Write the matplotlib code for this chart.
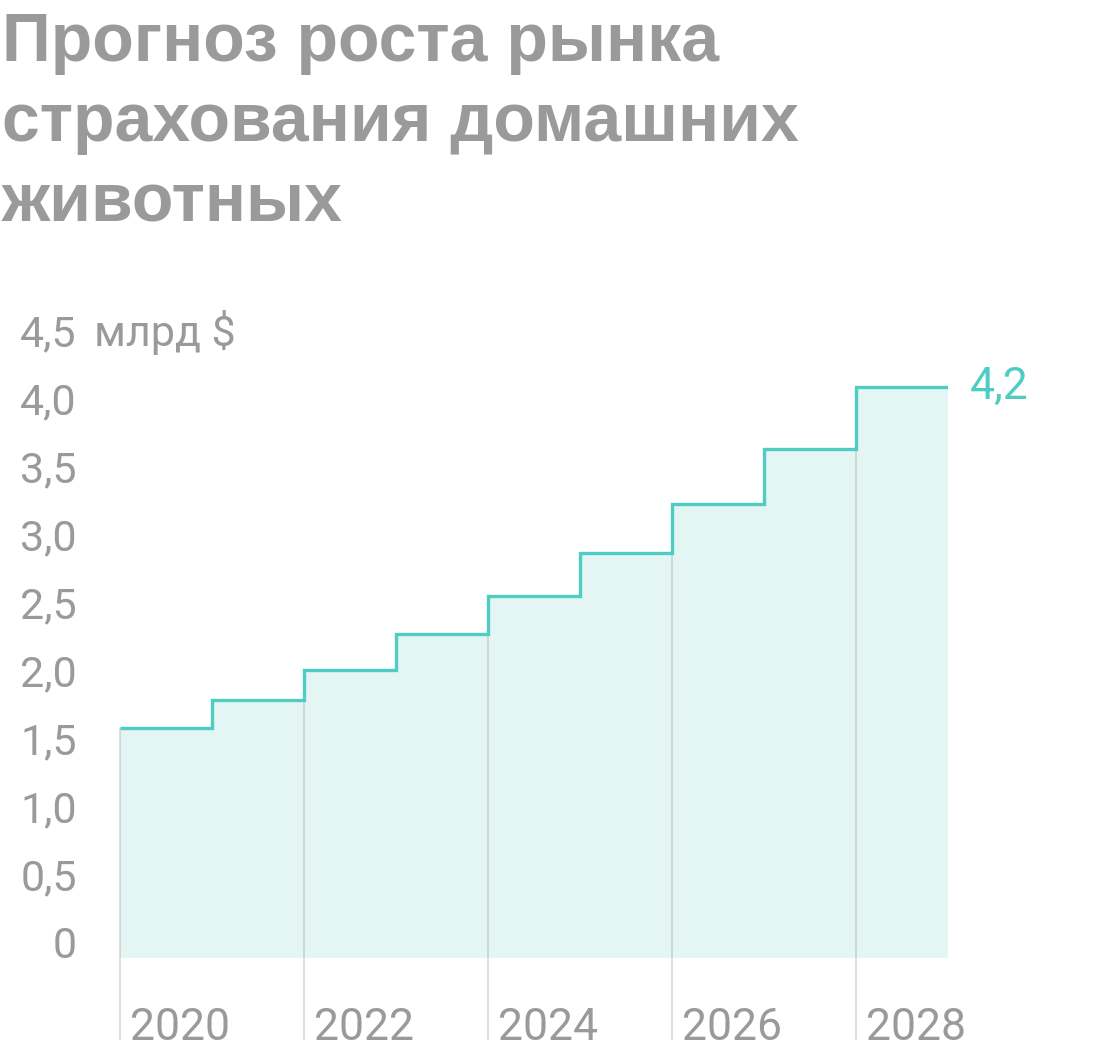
import matplotlib.pyplot as plt
import matplotlib.transforms as mtransforms

plt.rcParams['font.family'] = ['Roboto', 'DejaVu Sans']

# data
years = [2020, 2021, 2022, 2023, 2024, 2025, 2026, 2027, 2028]
valuesBn = [1.69, 1.90, 2.12, 2.38, 2.66, 2.98, 3.34, 3.74, 4.2]
yTicks = [0, 0.5, 1.0, 1.5, 2.0, 2.5, 3.0, 3.5, 4.0, 4.5]
yTickLabels = ["0", "0,5", "1,0", "1,5", "2,0", "2,5", "3,0", "3,5", "4,0", "4,5"]
xTickYears = [2020, 2022, 2024, 2026, 2028]
titleLines = ["Прогноз роста рынка", "страхования домашних", "животных"]
unitLabel = "млрд $"
lastLabel = "4,2"

grey = "#9a9a9a"
teal = "#4fcdc4"
fillColor = "#e3f6f4"

W, H = 1120, 1056
fig = plt.figure(figsize=(W / 100, H / 100), dpi=100)
# axes: 2020 -> px 120, 2029 -> px 948 ; y=0 -> px 958, y=4.5 -> px 346
ax = fig.add_axes([120 / W, (H - 958) / H, 828 / W, 612 / H])
ax.set_xlim(2020, 2029)
ax.set_ylim(0, 4.5)
for s in ax.spines.values():
    s.set_visible(False)

edges = years + [years[-1] + 1]

ax.stairs(valuesBn, edges, fill=True, color=fillColor, baseline=0, lw=0, zorder=1)

# vertical year lines, from below axis up to the lower step
pxPerUnit = 612 / 4.5
lineBottom = -82 / pxPerUnit
tops = []
for yr in xTickYears:
    i = years.index(yr)
    tops.append(valuesBn[i - 1] if i > 0 else valuesBn[0])
ax.vlines(xTickYears, lineBottom, tops, color="#bdbdbd", alpha=0.6, lw=1.2,
          clip_on=False, zorder=2)

step = ax.stairs(valuesBn, edges, baseline=None, color=teal, lw=2.4, zorder=3)
step.set_joinstyle("miter")
step.set_capstyle("butt")

# y ticks
ax.set_xticks([])
ax.set_yticks(yTicks)
ax.set_yticklabels(yTickLabels)
ax.tick_params(axis="y", length=0, pad=31, labelsize=31, labelcolor=grey)
for lab in ax.get_yticklabels():
    lab.set_va("baseline")

unitTrans = mtransforms.offset_copy(ax.transData, fig=fig, x=-26, y=0, units="dots")
ax.text(2020, yTicks[-1], unitLabel, transform=unitTrans, fontsize=31,
        color=grey, ha="left", va="baseline")

# x labels
yearTrans = mtransforms.offset_copy(ax.transData, fig=fig, x=10, y=-82, units="dots")
for yr in xTickYears:
    ax.text(yr, 0, str(yr), transform=yearTrans, fontsize=32, color=grey,
            ha="left", va="baseline", clip_on=False)

# end label
endTrans = mtransforms.offset_copy(ax.transData, fig=fig, x=22, y=0, units="dots")
ax.text(edges[-1], valuesBn[-1], lastLabel, transform=endTrans, fontsize=32,
        color=teal, ha="left", va="center")

# title
for k, line in enumerate(titleLines):
    fig.text(2 / W, 1 - (61 + 80 * k) / H, line, fontsize=49, fontweight="bold",
             family=["Liberation Sans", "DejaVu Sans"],
             color=grey, ha="left", va="baseline")

fig.savefig("out.png", dpi=100)
